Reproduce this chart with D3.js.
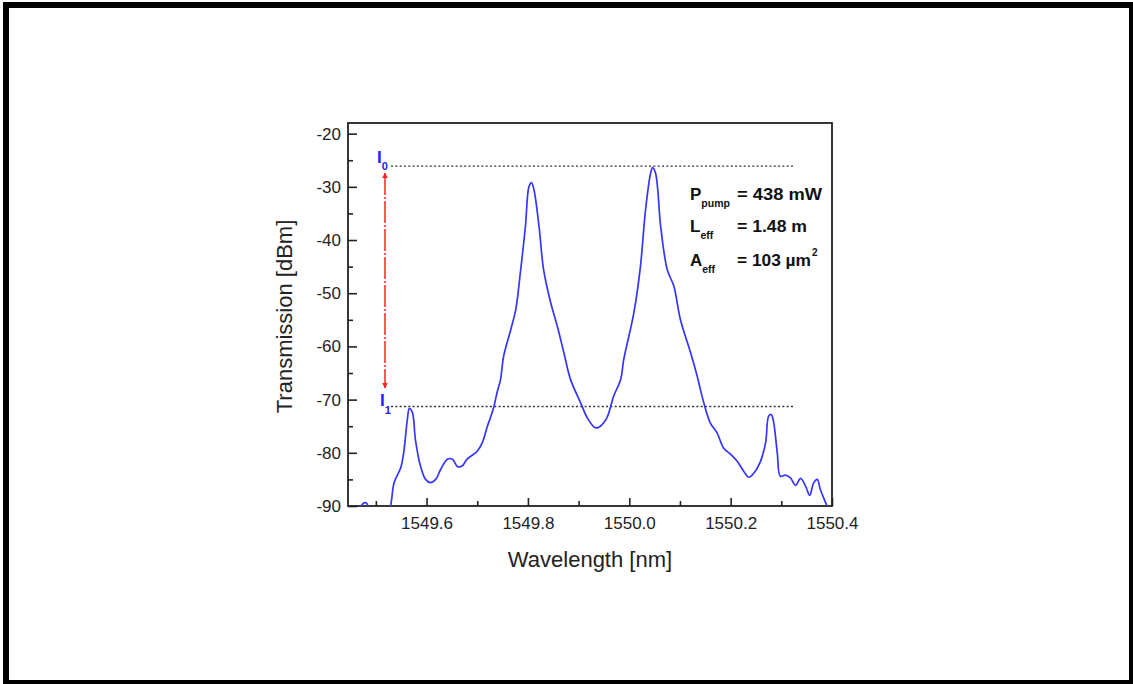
<!DOCTYPE html>
<html>
<head>
<meta charset="utf-8">
<script src="https://cdn.jsdelivr.net/npm/d3@7"></script>
<style>
  html, body { margin: 0; padding: 0; background: #fff; }
  svg { display: block; }
  text { font-family: "Liberation Sans", Arial, sans-serif; }
</style>
</head>
<body>
<svg id="chart" width="1133" height="684"></svg>
<script>
// ---------- data ----------
const wavelength = [
  1549.446, 1549.466, 1549.474, 1549.481, 1549.488, 1549.505, 1549.522, 1549.529, 1549.536,
  1549.549, 1549.555, 1549.562, 1549.566, 1549.572, 1549.578, 1549.588, 1549.598,
  1549.608, 1549.618, 1549.628, 1549.641, 1549.651, 1549.661, 1549.670, 1549.680,
  1549.700, 1549.710, 1549.720, 1549.726, 1549.733, 1549.739, 1549.746, 1549.752,
  1549.766, 1549.776, 1549.785, 1549.795, 1549.802, 1549.807, 1549.812, 1549.822,
  1549.831, 1549.845, 1549.858, 1549.871, 1549.884, 1549.904, 1549.917, 1549.933,
  1549.943, 1549.956, 1549.969, 1549.983, 1549.989, 1550.009, 1550.022, 1550.032,
  1550.042, 1550.046, 1550.052, 1550.062, 1550.075, 1550.088, 1550.101, 1550.121,
  1550.134, 1550.147, 1550.160, 1550.173, 1550.186, 1550.200, 1550.213, 1550.226,
  1550.236, 1550.246, 1550.259, 1550.269, 1550.275, 1550.280, 1550.284, 1550.292,
  1550.298, 1550.308, 1550.318, 1550.328, 1550.338, 1550.348, 1550.356, 1550.364,
  1550.371, 1550.377, 1550.390, 1550.396
];
const transmission = [
  -93.0, -91.0, -89.6, -89.4, -91.0, -93.0, -91.5, -89.9, -85.6,
  -82.8, -79.9, -73.8, -71.7, -72.4, -77.5, -82.5, -85.0,
  -85.6, -85.0, -83.1, -81.2, -81.2, -82.6, -82.5, -81.2,
  -79.7, -78.1, -75.0, -73.4, -71.3, -68.7, -66.2, -61.9,
  -56.9, -53.1, -46.2, -37.5, -30.0, -29.2, -30.6, -37.5,
  -45.6, -51.8, -56.2, -61.2, -66.2, -70.6, -73.4, -75.3,
  -75.0, -73.4, -69.4, -66.2, -62.5, -53.7, -45.0, -34.4,
  -27.5, -26.4, -27.5, -37.5, -45.6, -48.7, -55.0, -61.2,
  -65.6, -70.6, -74.4, -76.2, -79.1, -80.3, -81.6, -83.5,
  -84.6, -83.8, -81.6, -78.1, -73.1, -72.8, -73.8, -80.0,
  -84.4, -84.2, -84.7, -86.1, -84.8, -86.3, -88.0, -85.6,
  -85.0, -86.9, -90.0, -91.5
];

const xDomain = [1549.445, 1550.4];
const yDomain = [-90, -18];
const xMajorTicks = [1549.6, 1549.8, 1550.0, 1550.2, 1550.4];
const xTickLabels = ["1549.6", "1549.8", "1550.0", "1550.2", "1550.4"];
const xMinorTicks = [1549.5, 1549.7, 1549.9, 1550.1, 1550.3];
const yMajorTicks = [-90, -80, -70, -60, -50, -40, -30, -20];
const yTickLabels = ["-90", "-80", "-70", "-60", "-50", "-40", "-30", "-20"];
const yMinorTicks = [-85, -75, -65, -55, -45, -35, -25];

// reference levels and annotation
const levelI0 = -26.1;
const levelI1 = -71.3;
const levelLineStart = 1549.53;
const levelLineEnd = 1550.325;
const arrowX = 1549.518;
const arrowTop = -27.4;
const arrowBottom = -67.8;
const paramNames = [["P", "pump"], ["L", "eff"], ["A", "eff"]];
const paramValues = ["= 438 mW", "= 1.48 m", "= 103 \u00B5m"];

// ---------- layout ----------
const W = 1133, H = 684;
const margin = { left: 348, top: 123, right: 301, bottom: 178 };
const svg = d3.select("#chart");

// outer frame
svg.append("rect").attr("x", 3).attr("y", 2).attr("width", 1130).attr("height", 682).attr("fill", "#000");
svg.append("rect").attr("x", 9).attr("y", 8).attr("width", 1120).attr("height", 672).attr("fill", "#fff");

const x = d3.scaleLinear().domain(xDomain).range([margin.left, W - margin.right]);
const y = d3.scaleLinear().domain(yDomain).range([H - margin.bottom, margin.top]);

svg.append("clipPath").attr("id", "plotclip")
  .append("rect")
  .attr("x", x.range()[0]).attr("y", y.range()[1])
  .attr("width", x.range()[1] - x.range()[0])
  .attr("height", y.range()[0] - y.range()[1]);

// axes
const yAxis = d3.axisLeft(y).tickValues(yMajorTicks)
  .tickFormat((d, i) => yTickLabels[i]).tickSize(-9).tickPadding(7);
const yMinor = d3.axisLeft(y).tickValues(yMinorTicks).tickFormat("").tickSize(-5);
const xAxis = d3.axisBottom(x).tickValues(xMajorTicks)
  .tickFormat((d, i) => xTickLabels[i]).tickSize(-8).tickPadding(11);
const xMinor = d3.axisBottom(x).tickValues(xMinorTicks).tickFormat("").tickSize(-5);

function styleAxis(g) {
  g.select(".domain").remove();
  g.selectAll("line").attr("stroke", "#222").attr("stroke-width", 1.6);
  g.selectAll("text").attr("fill", "#222").style("font-size", "17px")
    .style("font-family", "'Liberation Sans', Arial, sans-serif");
}
svg.append("g").attr("transform", `translate(${margin.left},0)`).call(yAxis).call(styleAxis);
svg.append("g").attr("transform", `translate(${margin.left},0)`).call(yMinor).call(styleAxis);
svg.append("g").attr("transform", `translate(0,${H - margin.bottom})`).call(xAxis).call(styleAxis);
svg.append("g").attr("transform", `translate(0,${H - margin.bottom})`).call(xMinor).call(styleAxis);

// plot frame
svg.append("rect")
  .attr("x", x.range()[0]).attr("y", y.range()[1])
  .attr("width", x.range()[1] - x.range()[0])
  .attr("height", y.range()[0] - y.range()[1])
  .attr("fill", "none").attr("stroke", "#222").attr("stroke-width", 1.8);

// axis titles
svg.append("text")
  .attr("transform", `translate(292,${(y.range()[0] + y.range()[1]) / 2 + 2}) rotate(-90)`)
  .attr("text-anchor", "middle").attr("fill", "#222").style("font-size", "22px")
  .text("Transmission [dBm]");
svg.append("text")
  .attr("x", (x.range()[0] + x.range()[1]) / 2).attr("y", 567)
  .attr("text-anchor", "middle").attr("fill", "#222").style("font-size", "22px")
  .text("Wavelength [nm]");

// reference dotted lines
[levelI0, levelI1].forEach(lv => {
  svg.append("line")
    .attr("x1", x(levelLineStart)).attr("x2", x(levelLineEnd))
    .attr("y1", y(lv)).attr("y2", y(lv))
    .attr("stroke", "#333").attr("stroke-width", 1.4)
    .attr("stroke-dasharray", "2,2.3");
});

// curve
const pts = wavelength.map((w, i) => [w, transmission[i]]);
const line = d3.line().x(d => x(d[0])).y(d => y(d[1])).curve(d3.curveCatmullRom.alpha(0.5));
svg.append("path").datum(pts)
  .attr("clip-path", "url(#plotclip)")
  .attr("d", line)
  .attr("fill", "none").attr("stroke", "#3535ff").attr("stroke-width", 1.7)
  .attr("stroke-linejoin", "round");

// red arrow
const defs = svg.append("defs");
["up", "down"].forEach(dir => {
  defs.append("marker").attr("id", "arr-" + dir)
    .attr("viewBox", "0 0 10 10").attr("refX", 9).attr("refY", 5)
    .attr("markerWidth", 4).attr("markerHeight", 4)
    .attr("orient", "auto-start-reverse")
    .append("path").attr("d", "M0,0 L10,5 L0,10 Z").attr("fill", "#ff2020");
});
svg.append("line")
  .attr("x1", x(arrowX)).attr("x2", x(arrowX))
  .attr("y1", y(arrowTop)).attr("y2", y(arrowBottom))
  .attr("stroke", "#ff2020").attr("stroke-width", 1.5)
  .attr("stroke-dasharray", "22,2,2,2")
  .attr("marker-start", "url(#arr-up)")
  .attr("marker-end", "url(#arr-down)");

// I0 / I1 labels
function iLabel(level, sub, dx, dyBase, dySub) {
  const t = svg.append("text")
    .attr("x", x(levelLineStart) - dx).attr("y", y(level) + dyBase)
    .attr("fill", "#2020ff").style("font-weight", "bold").style("font-size", "17px");
  t.append("tspan").text("I");
  t.append("tspan").attr("dy", dySub).style("font-size", "11px").text(sub);
}
iLabel(levelI0, "0", 14, -3, 7);
iLabel(levelI1, "1", 11, -1, 8);

// parameter text block
const rowBase = [200, 232, 266];
paramNames.forEach((p, i) => {
  const t = svg.append("text").attr("x", 690).attr("y", rowBase[i])
    .attr("fill", "#111").style("font-weight", "bold").style("font-size", "17px");
  t.append("tspan").text(p[0]);
  t.append("tspan").attr("dy", 7).style("font-size", "10.5px").text(p[1]);
  const v = svg.append("text").attr("x", 737).attr("y", rowBase[i])
    .attr("fill", "#111").style("font-weight", "bold").style("font-size", "17px")
    .attr("textLength", i === 0 ? 85 : (i === 1 ? 70 : 74)).attr("lengthAdjust", "spacingAndGlyphs");
  v.text(paramValues[i]);
  if (i === 2) {
    svg.append("text").attr("x", 812).attr("y", rowBase[i] - 10)
      .attr("fill", "#111").style("font-weight", "bold").style("font-size", "10px").text("2");
  }
});
</script>
</body>
</html>
